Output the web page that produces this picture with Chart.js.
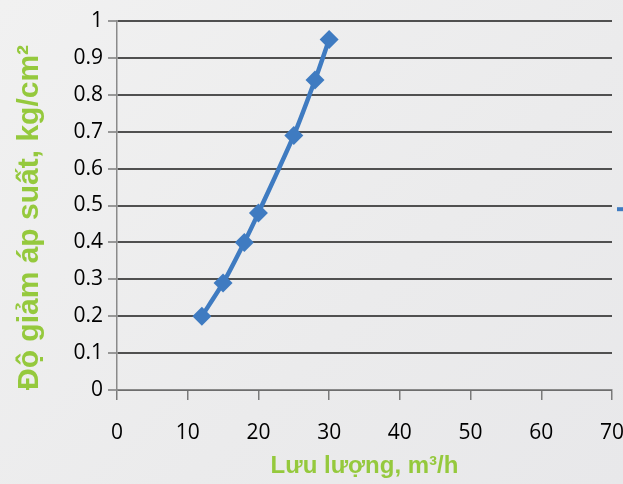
<!DOCTYPE html>
<html>
<head>
<meta charset="utf-8">
<script src="https://cdn.jsdelivr.net/npm/chart.js@4"></script>
<style>
  html, body { margin: 0; padding: 0; }
  body {
    width: 623px; height: 484px; overflow: hidden;
    background: linear-gradient(135deg, #f1f1f1 0%, #ebebec 60%, #e8e8ea 100%);
  }
  #wrap { position: relative; width: 623px; height: 484px; }
</style>
</head>
<body>
<div id="wrap"><canvas id="chart" width="623" height="484"></canvas></div>
<script>
// flow rate (m3/h) vs pressure drop (kg/cm2)
const flowRates = [12, 15, 18, 20, 25, 28, 30];
const pressureDrops = [0.2, 0.29, 0.4, 0.48, 0.69, 0.84, 0.95];
const xTickValues = [0, 10, 20, 30, 40, 50, 60, 70];
const yTickValues = [0, 0.1, 0.2, 0.3, 0.4, 0.5, 0.6, 0.7, 0.8, 0.9, 1];
const yTickLabels = ['0', '0.1', '0.2', '0.3', '0.4', '0.5', '0.6', '0.7', '0.8', '0.9', '1'];

const green = '#95c93d';
const blue = '#3f7bc1';

// the legend key is cut off at the right edge of the original
const legendStub = {
  id: 'legendStub',
  afterDraw(chart) {
    const ctx = chart.ctx;
    const y = chart.chartArea.top + (chart.chartArea.bottom - chart.chartArea.top) * 0.51;
    ctx.save();
    ctx.strokeStyle = blue;
    ctx.lineWidth = 4;
    ctx.beginPath();
    ctx.moveTo(617, y);
    ctx.lineTo(623, y);
    ctx.stroke();
    ctx.restore();
  }
};

new Chart(document.getElementById('chart'), {
  type: 'line',
  data: {
    datasets: [{
      label: 'Độ giảm áp suất',
      data: flowRates.map((x, i) => ({ x: x, y: pressureDrops[i] })),
      borderColor: blue,
      backgroundColor: blue,
      borderWidth: 4.5,
      pointStyle: 'rectRot',
      pointRadius: 9.5,
      pointHoverRadius: 9.5,
      pointBorderWidth: 0,
      tension: 0.25
    }]
  },
  options: {
    responsive: false,
    animation: false,
    devicePixelRatio: 1,
    layout: { padding: { top: 21, right: 11, left: 0, bottom: 0 } },
    plugins: {
      legend: { display: false },
      tooltip: { enabled: false }
    },
    scales: {
      x: {
        type: 'linear',
        min: 0,
        max: 70,
        afterBuildTicks: (scale) => { scale.ticks = xTickValues.map(v => ({ value: v })); },
        afterFit: (scale) => {
          scale.height = 94;
          // let the "70" label run off the edge like the original
          scale.paddingLeft = 0;
          scale.paddingRight = 0;
        },
        ticks: {
          color: '#000',
          font: { family: 'Open Sans', size: 21 },
          padding: 20,
          maxRotation: 0
        },
        grid: {
          drawOnChartArea: false,
          drawTicks: true,
          tickLength: 10,
          color: '#7a7a7a',
          lineWidth: 1.5
        },
        border: { color: '#8a8a8a', width: 1.5 },
        title: {
          display: true,
          text: 'Lưu lượng, m³/h',
          color: green,
          font: { family: 'Liberation Sans', size: 24, weight: 'bold' },
          padding: { top: 0, bottom: 3 }
        }
      },
      y: {
        min: 0,
        max: 1,
        afterBuildTicks: (scale) => { scale.ticks = yTickValues.map(v => ({ value: v })); },
        afterFit: (scale) => { scale.width = 117; },
        ticks: {
          color: '#000',
          font: { family: 'Open Sans', size: 21 },
          padding: 5,
          callback: (v, i) => yTickLabels[i]
        },
        grid: {
          color: '#505050',
          lineWidth: 2,
          tickLength: 9,
          tickColor: '#7a7a7a',
          tickWidth: 1.5
        },
        border: { color: '#8a8a8a', width: 1.5 },
        title: {
          display: true,
          align: 'start',
          text: 'Độ giảm áp suất, kg/cm²',
          color: green,
          font: { family: 'Liberation Sans', size: 30, weight: 'bold' },
          padding: { top: 12, bottom: 0 }
        }
      }
    }
  },
  plugins: [legendStub]
});
</script>
</body>
</html>
